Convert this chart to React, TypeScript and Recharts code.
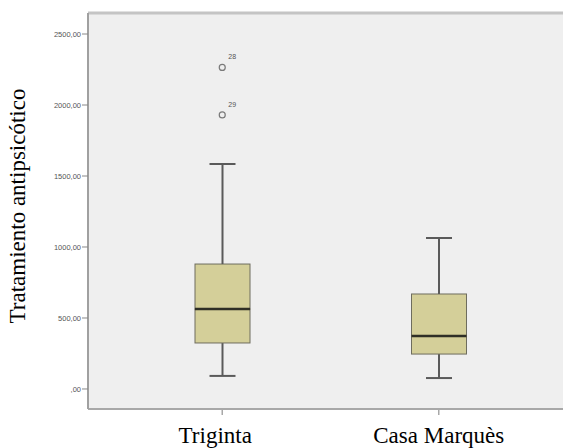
import { ComposedChart, Bar, Line, XAxis, YAxis, CartesianGrid, ReferenceLine } from 'recharts';

const categories = ['Triginta', 'Casa Marquès'];
const whiskerLow = [92, 77];
const q1 = [324, 246];
const median = [563, 373];
const q3 = [880, 669];
const whiskerHigh = [1585, 1063];
const outlier28 = [2265, null];
const outlier29 = [1930, null];
const outlierIds = ['28', '29'];
const yTicks = [0, 500, 1000, 1500, 2000, 2500];

const data = categories.map((name, i) => ({
  name,
  base: whiskerLow[i],
  lowWhisker: q1[i] - whiskerLow[i],
  lowBox: median[i] - q1[i],
  highBox: q3[i] - median[i],
  highWhisker: whiskerHigh[i] - q3[i],
  out28: outlier28[i],
  out29: outlier29[i],
}));

const boxFill = '#d4cf99';
const boxStroke = '#6e6d5e';
const whiskerColor = '#5a5a5a';
const capHalf = 13;
const serif = "'Liberation Serif', 'Times New Roman', serif";

const LowWhisker = (props: any) => {
  const { x, y, width, height } = props;
  const cx = x + width / 2;
  return (
    <g>
      <line x1={cx} y1={y} x2={cx} y2={y + height} stroke={whiskerColor} strokeWidth={2} />
      <line x1={cx - capHalf} y1={y + height} x2={cx + capHalf} y2={y + height} stroke={whiskerColor} strokeWidth={2} />
    </g>
  );
};

const HighWhisker = (props: any) => {
  const { x, y, width, height } = props;
  const cx = x + width / 2;
  return (
    <g>
      <line x1={cx} y1={y} x2={cx} y2={y + height} stroke={whiskerColor} strokeWidth={2} />
      <line x1={cx - capHalf} y1={y} x2={cx + capHalf} y2={y} stroke={whiskerColor} strokeWidth={2} />
    </g>
  );
};

const LowBox = (props: any) => {
  const { x, y, width, height } = props;
  return <rect x={x} y={y} width={width} height={height} fill={boxFill} stroke={boxStroke} strokeWidth={1} />;
};

const HighBox = (props: any) => {
  const { x, y, width, height } = props;
  return (
    <g>
      <rect x={x} y={y} width={width} height={height} fill={boxFill} stroke={boxStroke} strokeWidth={1} />
      <line x1={x} y1={y + height} x2={x + width} y2={y + height} stroke="#2f2f26" strokeWidth={2.5} />
    </g>
  );
};

const outlierDot = (id: string) => (props: any) => {
  const { cx, cy, value, key } = props;
  if (value == null || cy == null || isNaN(cy)) return <g key={key} />;
  return (
    <g key={key}>
      <circle cx={cx} cy={cy} r={3} fill="none" stroke="#7a7a7a" strokeWidth={1.2} />
      <text x={cx + 6} y={cy - 8} fontSize={7} fill="#555" fontFamily="Arial, sans-serif">
        {id}
      </text>
    </g>
  );
};

// the first category label sits a little left of its tick in the original
const XTick = (props: any) => {
  const { x, y, payload, index } = props;
  return (
    <text x={x + (index === 0 ? -7 : 0)} y={y + 16} textAnchor="middle" fontFamily={serif} fontSize={23} fill="#000">
      {payload.value}
    </text>
  );
};

const yLabel = () => (
  <text x={25} y={206} transform="rotate(-90, 25, 206)" textAnchor="middle" fontFamily={serif} fontSize={23} fill="#000">
    Tratamiento antipsicótico
  </text>
);

export default function App() {
  return (
    <div style={{ position: 'absolute', left: 0, top: 0, background: '#fff' }}>
      <ComposedChart width={563} height={448} data={data} margin={{ top: 13, right: 0, bottom: 0, left: 0 }}>
        <CartesianGrid fill="#efefef" horizontal={false} vertical={false} />
        <XAxis
          dataKey="name"
          height={39}
          padding={{ left: 26, right: 16 }}
          axisLine={{ stroke: '#a8a8a8', strokeWidth: 2 }}
          tickLine={{ stroke: '#a8a8a8', strokeWidth: 1.5 }}
          tickSize={6}
          tickMargin={12}
          tick={XTick}
        />
        <YAxis
          width={88}
          domain={[-141, 2648]}
          ticks={yTicks}
          allowDataOverflow
          tickFormatter={(v: number) => (v === 0 ? ',00' : `${v},00`)}
          axisLine={{ stroke: '#a0a0a0', strokeWidth: 2 }}
          tickLine={{ stroke: '#888' }}
          tickSize={6}
          tickMargin={1}
          tick={{ fill: '#555', fontSize: 7.5, fontFamily: 'Arial, sans-serif' }}
          label={yLabel}
        />
        <ReferenceLine y={2648} stroke="#c4c4c4" strokeWidth={3} />
        <Bar dataKey="base" stackId="box" fill="none" barSize={55} isAnimationActive={false} />
        <Bar dataKey="lowWhisker" stackId="box" barSize={55} shape={LowWhisker} isAnimationActive={false} />
        <Bar dataKey="lowBox" stackId="box" barSize={55} shape={LowBox} isAnimationActive={false} />
        <Bar dataKey="highBox" stackId="box" barSize={55} shape={HighBox} isAnimationActive={false} />
        <Bar dataKey="highWhisker" stackId="box" barSize={55} shape={HighWhisker} isAnimationActive={false} />
        <Line dataKey="out28" stroke="none" dot={outlierDot(outlierIds[0])} activeDot={false} isAnimationActive={false} />
        <Line dataKey="out29" stroke="none" dot={outlierDot(outlierIds[1])} activeDot={false} isAnimationActive={false} />
      </ComposedChart>
    </div>
  );
}
